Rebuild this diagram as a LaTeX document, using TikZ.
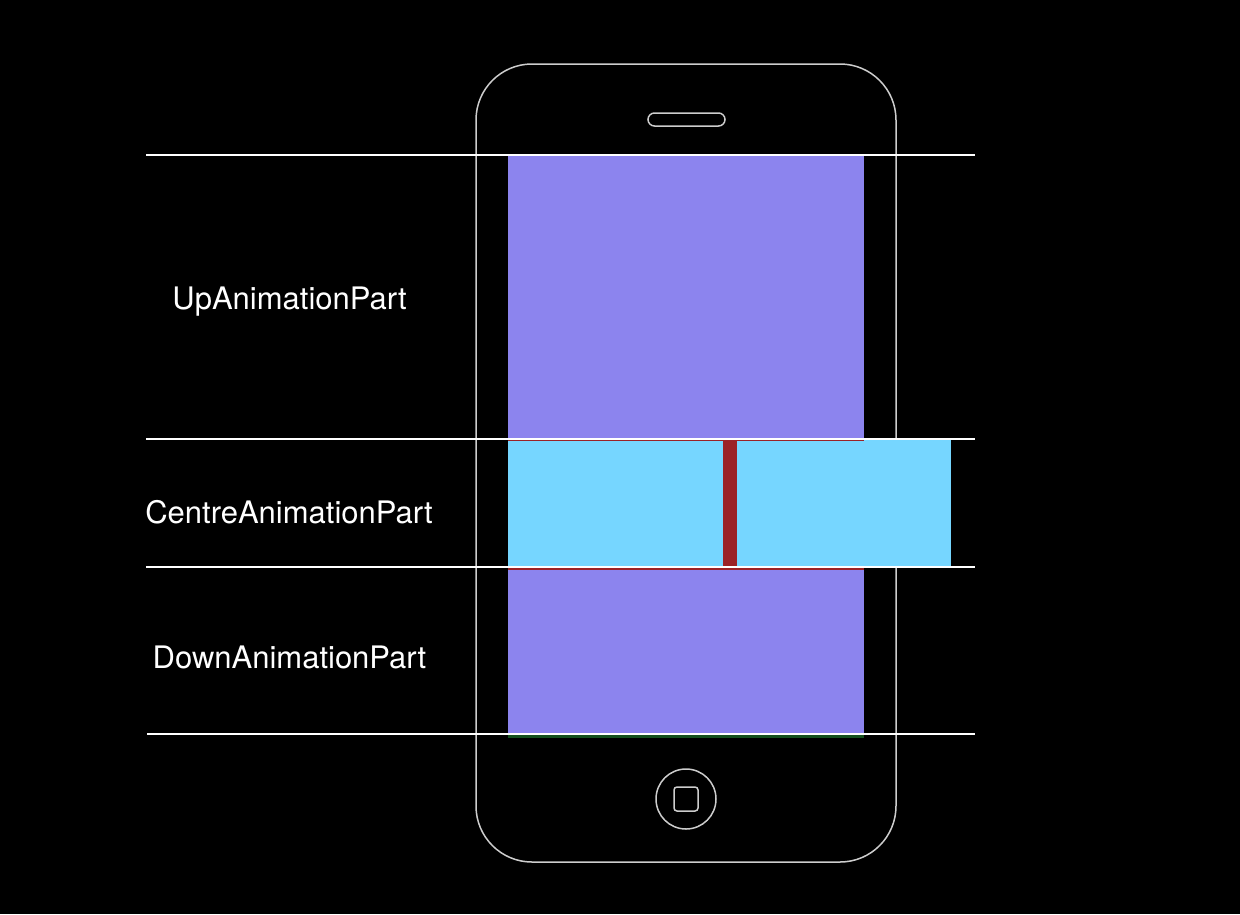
\documentclass[tikz,border=0pt]{standalone}
\usepackage{fontspec}
\setmainfont{TeX Gyre Heros}
\definecolor{purp}{RGB}{140,132,238}
\definecolor{cyanb}{RGB}{118,214,255}
\definecolor{redbar}{RGB}{155,34,38}
\definecolor{greenl}{RGB}{20,80,30}
\definecolor{outl}{RGB}{205,205,205}
\tikzset{
  guide/.style={draw=white, line width=2pt},
  phoneline/.style={draw=outl, line width=1.5pt},
  label/.style={text=white, anchor=base, font=\fontsize{31}{37}\selectfont, inner sep=0pt},
}
\begin{document}
\begin{tikzpicture}[x=1pt,y=-1pt]
\fill[black] (0,0) rectangle (1240,914);
\useasboundingbox (0,0) rectangle (1240,914);
% phone body
\draw[phoneline, rounded corners=56pt] (476,64) rectangle (896,862);
% speaker
\draw[phoneline, rounded corners=6.5pt] (648,113) rectangle (725,126);
% home button
\draw[phoneline] (686,799) circle (30);
\draw[phoneline, rounded corners=3pt] (674,787) rectangle (698,811);
% screen parts
\fill[purp] (508,155) rectangle (864,439);
\fill[cyanb] (508,440) rectangle (951,567);
\fill[redbar] (723,440) rectangle (737,567);
\fill[redbar] (508,439) rectangle (864,441);
\fill[redbar] (508,567) rectangle (864,570);
\fill[purp] (508,570) rectangle (864,734);
\fill[greenl] (508,734) rectangle (864,737.5);
% guide lines
\coordinate (g1a) at (146,155); \coordinate (g1b) at (975,155);
\coordinate (g2a) at (146,439); \coordinate (g2b) at (975,439);
\coordinate (g3a) at (146,567); \coordinate (g3b) at (975,567);
\coordinate (g4a) at (147,734); \coordinate (g4b) at (975,734);
\draw[guide] (g1a) -- (g1b);
\draw[guide] (g2a) -- (g2b);
\draw[guide] (g3a) -- (g3b);
\draw[guide] (g4a) -- (g4b);
% labels
\node[label] (up) at (289.5,309) {UpAnimationPart};
\node[label] (centre) at (289,523) {CentreAnimationPart};
\node[label] (down) at (289.5,668) {DownAnimationPart};
\end{tikzpicture}
\end{document}
